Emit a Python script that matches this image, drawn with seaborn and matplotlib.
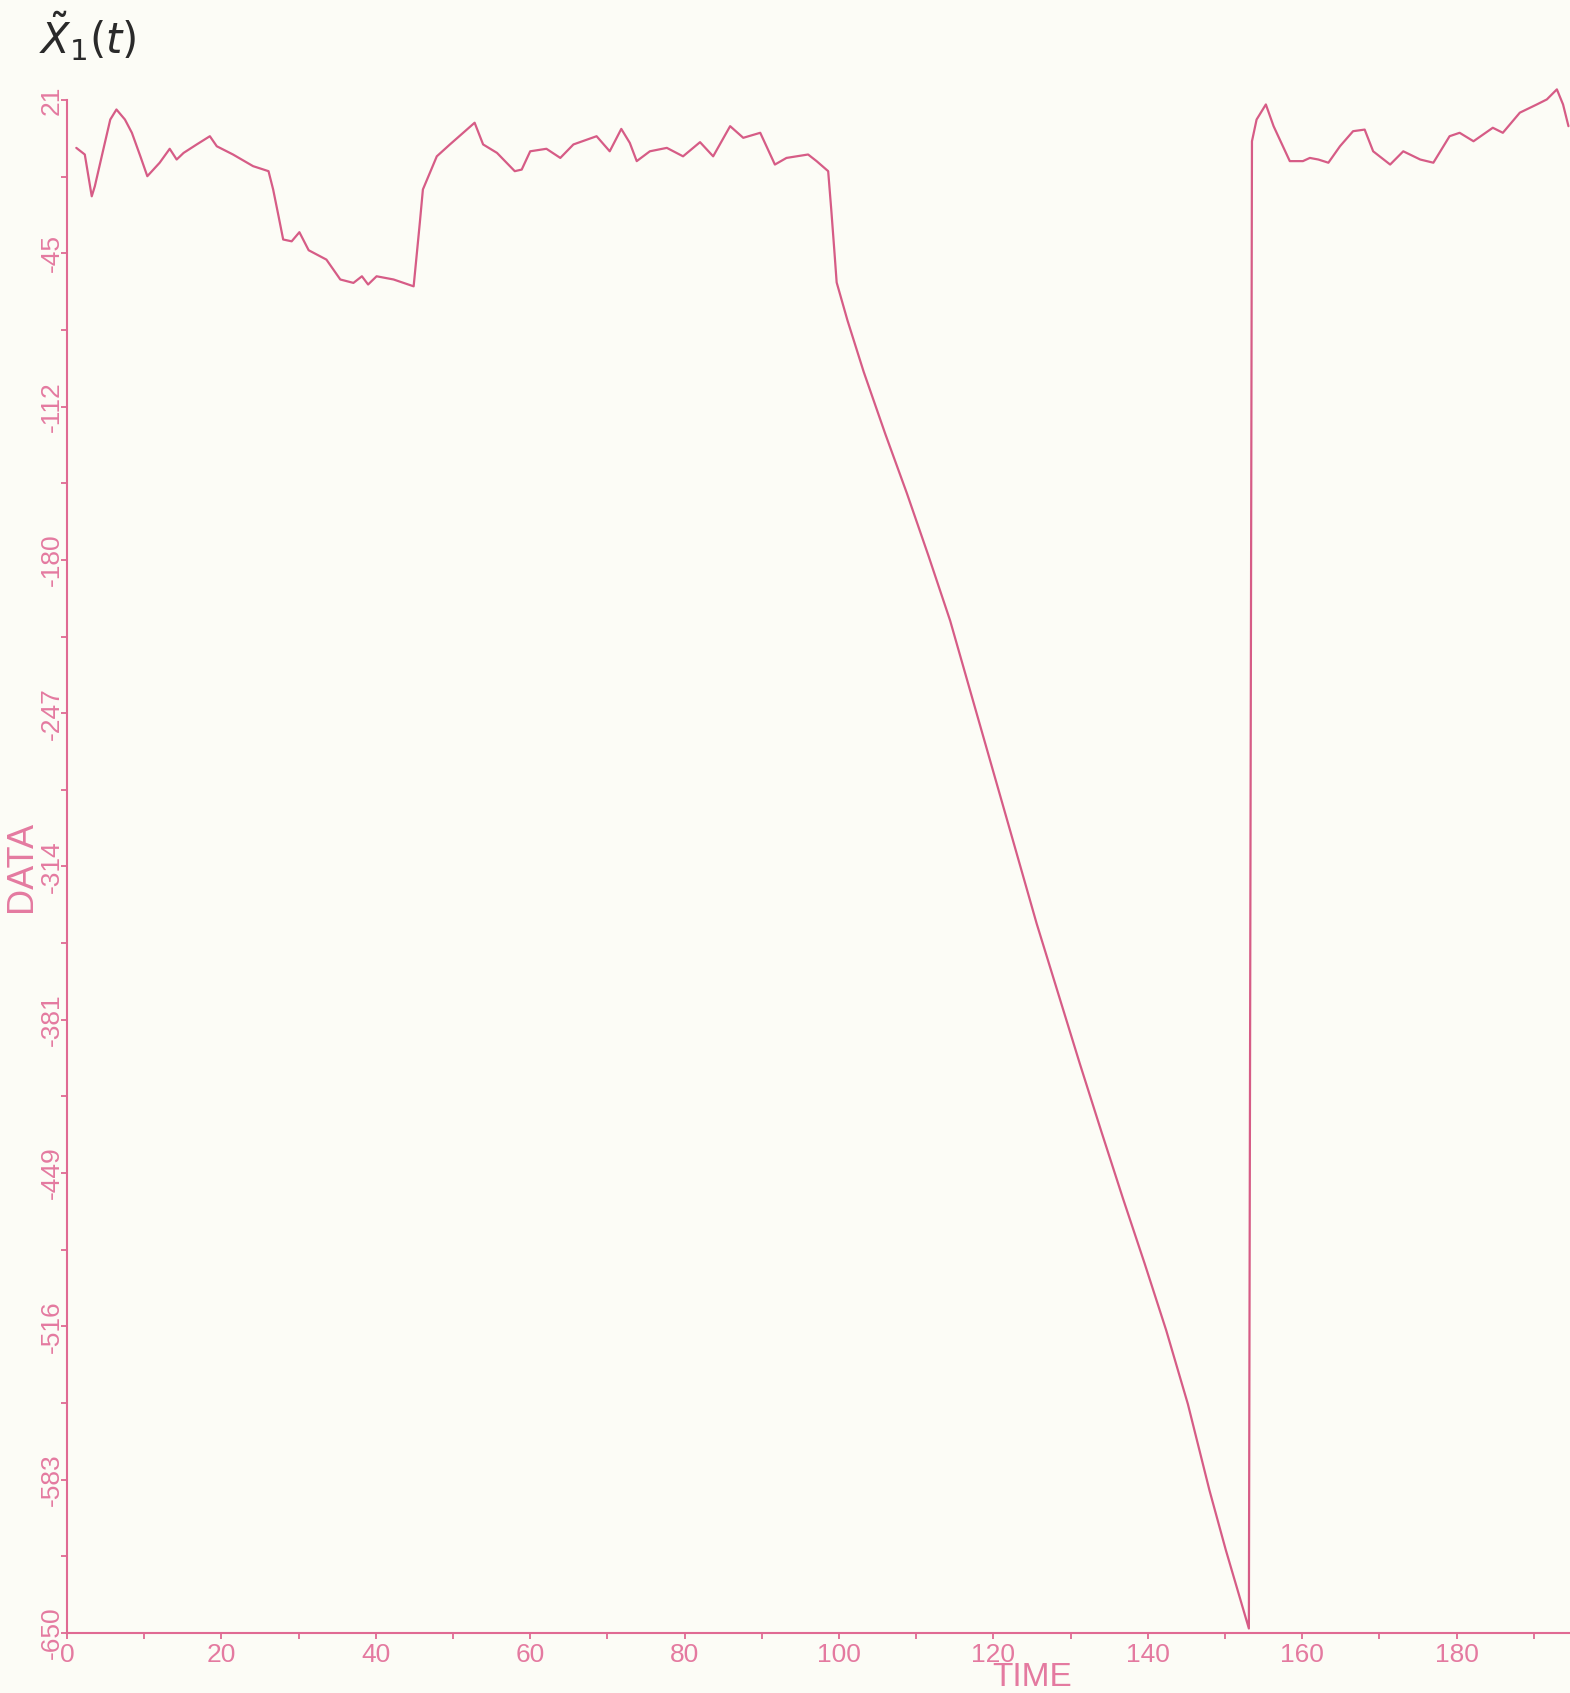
import numpy as np
import pandas as pd
import matplotlib
matplotlib.use("Agg")
import matplotlib.pyplot as plt
from matplotlib.ticker import FixedLocator
import seaborn as sns

# ---- data -------------------------------------------------------------
time = [1.2, 2.3, 3.2, 3.6, 4.7, 5.6, 6.4, 7.5, 8.4, 9.5,
        10.4, 12.0, 13.3, 14.2, 15.1, 16.8, 18.5, 19.4, 21.5, 24.1,
        26.1, 26.7, 27.4, 28.0, 29.1, 30.1, 31.3, 33.6, 35.4, 37.1,
        38.2, 39.0, 40.1, 42.3, 44.9, 45.7, 46.1, 47.9, 49.6, 52.8,
        53.9, 55.7, 58.0, 58.9, 60.0, 62.1, 63.9, 65.6, 68.6, 70.3,
        71.8, 72.9, 73.8, 75.5, 77.7, 79.8, 82.0, 83.7, 85.9, 87.6,
        89.8, 91.7, 93.2, 96.0, 97.1, 98.6, 99.0, 99.4, 99.7, 101.1,
        103.2, 106.0, 108.8, 111.6, 114.4, 117.2, 120.0, 122.8, 125.6, 128.4,
        131.2, 134.0, 136.8, 139.6, 142.4, 145.2, 148.0, 150.1, 153.1, 153.5,
        154.1, 155.3, 156.3, 158.4, 160.1, 161.0, 162.1, 163.4, 164.9, 166.6,
        168.1, 169.2, 171.4, 173.1, 175.3, 177.0, 179.1, 180.4, 182.2, 184.7,
        186.0, 188.2, 190.4, 191.7, 193.0, 193.8, 194.5]

data = [0.0, -2.9, -21.2, -16.8, -0.7, 12.4, 16.8, 12.4, 6.6, -3.7,
        -12.4, -6.5, -0.4, -5.1, -2.2, 1.5, 5.1, 0.7, -2.9, -8.0,
        -10.2, -18.2, -29.9, -40.1, -40.9, -36.9, -44.8, -48.9, -57.6, -59.1,
        -56.2, -59.8, -56.2, -57.6, -60.6, -32.8, -18.2, -3.7, 1.5, 11.0,
        1.5, -2.2, -10.2, -9.5, -1.5, -0.4, -4.4, 1.5, 5.1, -1.5,
        8.3, 2.2, -5.8, -1.5, 0.0, -3.7, 2.5, -3.7, 9.5, 4.4,
        6.6, -7.3, -4.4, -2.9, -5.8, -10.2, -27.0, -45.0, -58.9, -75.5,
        -98.0, -125.2, -151.2, -178.6, -206.9, -240.0, -273.1, -306.2, -339.4, -370.1,
        -400.8, -430.6, -459.9, -488.3, -517.6, -549.8, -587.6, -613.5, -648.0, 2.9,
        12.4, 19.0, 9.5, -5.8, -5.8, -4.4, -5.1, -6.5, 0.7, 7.3,
        8.0, -1.5, -7.3, -1.5, -5.1, -6.5, 5.1, 6.6, 2.9, 8.8,
        6.6, 15.4, 19.0, 21.2, 25.6, 19.0, 9.5]

x_ticks = [0, 20, 40, 60, 80, 100, 120, 140, 160, 180]
x_tick_labels = ["0", "20", "40", "60", "80", "100", "120", "140", "160", "180"]
y_top, y_bottom = 21, -650
y_tick_labels = ["21", "-45", "-112", "-180", "-247", "-314",
                 "-381", "-449", "-516", "-583", "-650"]

# ---- style ------------------------------------------------------------
sns.set_style("ticks")
plt.rcParams["font.family"] = ["Liberation Sans Narrow", "Liberation Sans", "DejaVu Sans"]

PINK_LINE = "#d65c86"
PINK_AXIS = "#e06a93"
PINK_TEXT = "#e47aa0"
PAPER = "#fcfcf6"

fig = plt.figure(figsize=(15.7, 16.93), dpi=100, facecolor=PAPER)
ax = fig.add_axes([0.0427, 0.0354, 0.9573, 0.9056], facecolor=PAPER)

df = pd.DataFrame({"TIME": time, "DATA": data})
sns.lineplot(data=df, x="TIME", y="DATA", ax=ax, sort=False, estimator=None,
             color=PINK_LINE, linewidth=1.6)
for ln in ax.lines:
    ln.set_clip_on(False)

ax.set_xlim(0, 194.7)
ax.set_ylim(y_bottom, y_top)

# axes: only left and bottom spines, plotter-style
for side in ("top", "right"):
    ax.spines[side].set_visible(False)
for side in ("left", "bottom"):
    ax.spines[side].set_color(PINK_AXIS)
    ax.spines[side].set_linewidth(1.5)

y_major = np.linspace(y_top, y_bottom, len(y_tick_labels))
y_minor = (y_major[:-1] + y_major[1:]) / 2
ax.set_yticks(y_major)
ax.set_yticklabels(y_tick_labels, rotation=90, va="center", color=PINK_TEXT, fontsize=19)
ax.yaxis.set_minor_locator(FixedLocator(y_minor))

ax.set_xticks(x_ticks)
ax.set_xticklabels(x_tick_labels, color=PINK_TEXT, fontsize=19)
ax.xaxis.set_minor_locator(FixedLocator(np.arange(10, 195, 20)))

ax.tick_params(axis="both", which="both", direction="out", length=4,
               width=1.3, color=PINK_AXIS)
ax.tick_params(axis="y", which="major", pad=-1.5)
ax.tick_params(axis="x", which="major", pad=3)

ax.set_xlabel("TIME", color=PINK_TEXT, fontsize=24, ha="center", va="center")
ax.xaxis.set_label_coords(0.642, -0.0287)
ax.set_ylabel("DATA", color=PINK_TEXT, fontsize=26, ha="center", va="center")
ax.yaxis.set_label_coords(-0.0300, 0.5)

fig.text(88 / 1570, 1 - 36 / 1693, r"$\tilde{X}_1(t)$", color="#2a2a2a",
         fontsize=30, ha="center", va="center")

fig.savefig("out.png", dpi=100, facecolor=PAPER)
